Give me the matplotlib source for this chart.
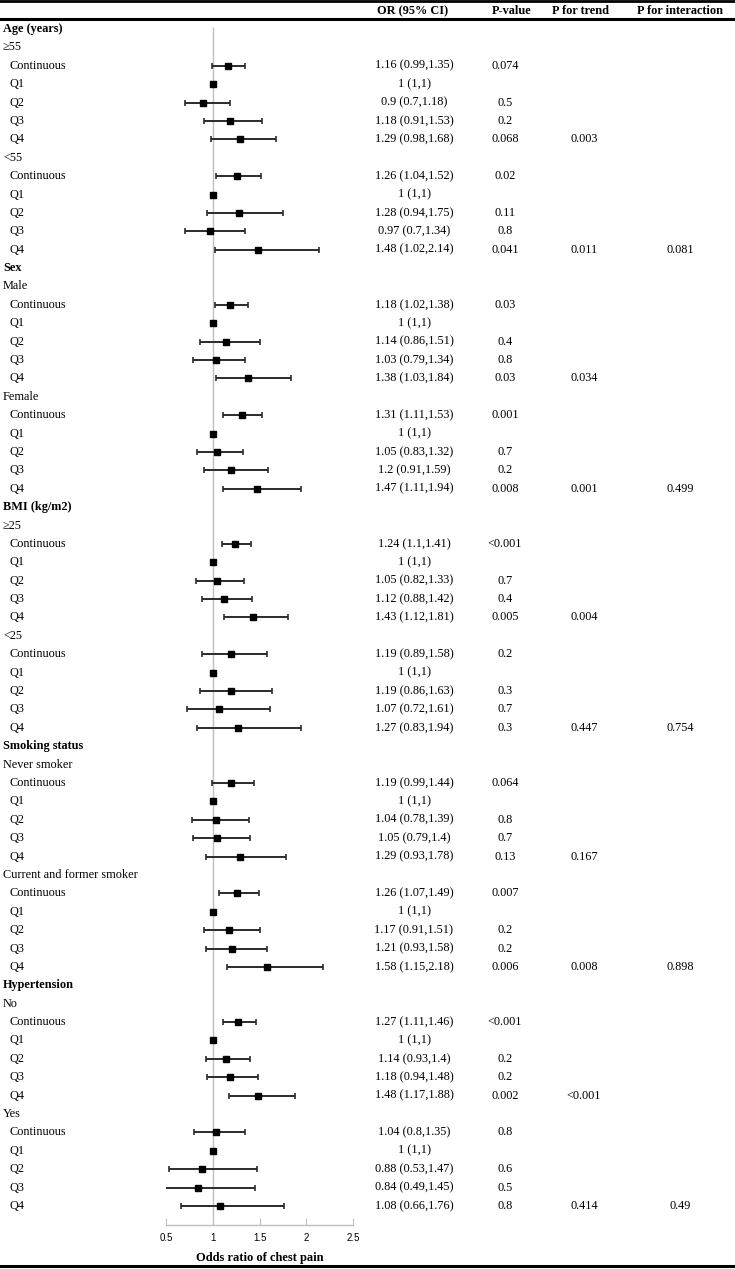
import matplotlib
matplotlib.use("Agg")
import matplotlib.pyplot as plt
from matplotlib import transforms
from matplotlib.lines import Line2D

# ---- data ----
groups = ["Age (years)", "Sex", "BMI (kg/m2)", "Smoking status", "Hypertension"]
subgroups = [["≥55", "<55"], ["Male", "Female"], ["≥25", "<25"],
             ["Never smoker", "Current and former smoker"], ["No", "Yes"]]
items = ["Continuous", "Q1", "Q2", "Q3", "Q4"]

or_est = [1.16, 1, 0.9, 1.18, 1.29, 1.26, 1, 1.28, 0.97, 1.48,
          1.18, 1, 1.14, 1.03, 1.38, 1.31, 1, 1.05, 1.2, 1.47,
          1.24, 1, 1.05, 1.12, 1.43, 1.19, 1, 1.19, 1.07, 1.27,
          1.19, 1, 1.04, 1.05, 1.29, 1.26, 1, 1.17, 1.21, 1.58,
          1.27, 1, 1.14, 1.18, 1.48, 1.04, 1, 0.88, 0.84, 1.08]
ci_low = [0.99, 1, 0.7, 0.91, 0.98, 1.04, 1, 0.94, 0.7, 1.02,
          1.02, 1, 0.86, 0.79, 1.03, 1.11, 1, 0.83, 0.91, 1.11,
          1.1, 1, 0.82, 0.88, 1.12, 0.89, 1, 0.86, 0.72, 0.83,
          0.99, 1, 0.78, 0.79, 0.93, 1.07, 1, 0.91, 0.93, 1.15,
          1.11, 1, 0.93, 0.94, 1.17, 0.8, 1, 0.53, 0.49, 0.66]
ci_high = [1.35, 1, 1.18, 1.53, 1.68, 1.52, 1, 1.75, 1.34, 2.14,
           1.38, 1, 1.51, 1.34, 1.84, 1.53, 1, 1.32, 1.59, 1.94,
           1.41, 1, 1.33, 1.42, 1.81, 1.58, 1, 1.63, 1.61, 1.94,
           1.44, 1, 1.39, 1.4, 1.78, 1.49, 1, 1.51, 1.58, 2.18,
           1.46, 1, 1.4, 1.48, 1.88, 1.35, 1, 1.47, 1.45, 1.76]
p_value = ["0.074", "", "0.5", "0.2", "0.068", "0.02", "", "0.11", "0.8", "0.041",
           "0.03", "", "0.4", "0.8", "0.03", "0.001", "", "0.7", "0.2", "0.008",
           "<0.001", "", "0.7", "0.4", "0.005", "0.2", "", "0.3", "0.7", "0.3",
           "0.064", "", "0.8", "0.7", "0.13", "0.007", "", "0.2", "0.2", "0.006",
           "<0.001", "", "0.2", "0.2", "0.002", "0.8", "", "0.6", "0.5", "0.8"]
p_trend = ["0.003", "0.011", "0.034", "0.001", "0.004", "0.447",
           "0.167", "0.008", "<0.001", "0.414"]
p_interaction = ["0.081", "0.499", "0.754", "0.898", "0.49"]

# ---- build rows ----
rows = []  # (label, level, k) ; k index into item arrays or None
k = 0
trend_rows, inter_rows = [], []
for g, subs in zip(groups, subgroups):
    rows.append((g, 0, None))
    for s in subs:
        rows.append((s, 1, None))
        for it in items:
            rows.append((it, 2, k))
            k += 1
        trend_rows.append(len(rows) - 1)
    inter_rows.append(len(rows) - 1)

W, H = 735, 1269
fig = plt.figure(figsize=(W / 100, H / 100), dpi=100)
serif = ["Liberation Serif", "DejaVu Serif"]

row0, step = 29, 18.39
n = len(rows)
top_px, bot_px = 20, 1225
y_top = -(row0 - top_px) / step
y_bot = (n - 1) + (bot_px - (row0 + step * (n - 1))) / step
x0_px, x1_px = 166, 353
ax = fig.add_axes([x0_px / W, 1 - bot_px / H, (x1_px - x0_px) / W, (bot_px - top_px) / H])
ax.set_xlim(0.5, 2.5)
ax.set_ylim(y_bot, y_top)
for s in ["top", "right", "left"]:
    ax.spines[s].set_visible(False)
ax.spines["bottom"].set_color("#bfbfbf")
ax.spines["bottom"].set_linewidth(1)
ax.set_yticks([])
ax.set_xticks([0.5, 1, 1.5, 2, 2.5])
ax.set_xticklabels(["0.5", "1", "1.5", "2", "2.5"], fontsize=7, family="Liberation Sans")
ax.tick_params(axis="x", direction="in", length=5, color="#bfbfbf", pad=6)

ax.vlines(1, -0.1, y_bot, color="#bfbfbf", lw=1, zorder=1)

ys = [i for i, r in enumerate(rows) if r[2] is not None]
idx = [r[2] for r in rows if r[2] is not None]
est = [or_est[j] for j in idx]
lo = [est[m] - ci_low[j] for m, j in enumerate(idx)]
hi = [ci_high[j] - est[m] for m, j in enumerate(idx)]
ax.errorbar(est, ys, xerr=[lo, hi], fmt="s", color="black", ecolor="#2b2b2b",
            elinewidth=1.4, capsize=2.5, capthick=1.2, markersize=5, zorder=3)

ax.set_xlabel("Odds ratio of chest pain", fontsize=9, fontweight="bold",
              family=serif, labelpad=6)

# ---- text columns ----
tr = transforms.blended_transform_factory(fig.transFigure, ax.transData)
fs = 8.8
for i, (lab, lvl, j) in enumerate(rows):
    xpx = 10 if lvl == 2 else 3
    ax.text(xpx / W, i, lab, transform=tr, fontsize=fs, family=serif,
            fontweight="bold" if lvl == 0 else "normal", va="center", ha="left", clip_on=False)
    if j is not None:
        txt = f"{or_est[j]:g} ({ci_low[j]:g},{ci_high[j]:g})"
        ax.text(414 / W, i, txt, transform=tr, fontsize=fs, family=serif,
                va="center", ha="center", clip_on=False)
        if p_value[j]:
            ax.text(505 / W, i, p_value[j], transform=tr, fontsize=fs, family=serif,
                    va="center", ha="center", clip_on=False)
for r, p in zip(trend_rows, p_trend):
    ax.text(584 / W, r, p, transform=tr, fontsize=fs, family=serif,
            va="center", ha="center", clip_on=False)
for r, p in zip(inter_rows, p_interaction):
    ax.text(680 / W, r, p, transform=tr, fontsize=fs, family=serif,
            va="center", ha="center", clip_on=False)

# header
hy = 1 - 11 / H
for xpx, h in [(413, "OR (95% CI)"), (512, "P-value"), (580, "P for trend"),
               (680, "P for interaction")]:
    fig.text(xpx / W, hy, h, fontsize=fs, family=serif, fontweight="bold",
             ha="center", va="center")

# table rules
for ypx, lw in [(1, 2.0), (19, 2.2), (1266, 2.2)]:
    fig.add_artist(Line2D([0, 1], [1 - ypx / H, 1 - ypx / H],
                          transform=fig.transFigure, color="black", lw=lw))

fig.savefig("out.png", dpi=100)
